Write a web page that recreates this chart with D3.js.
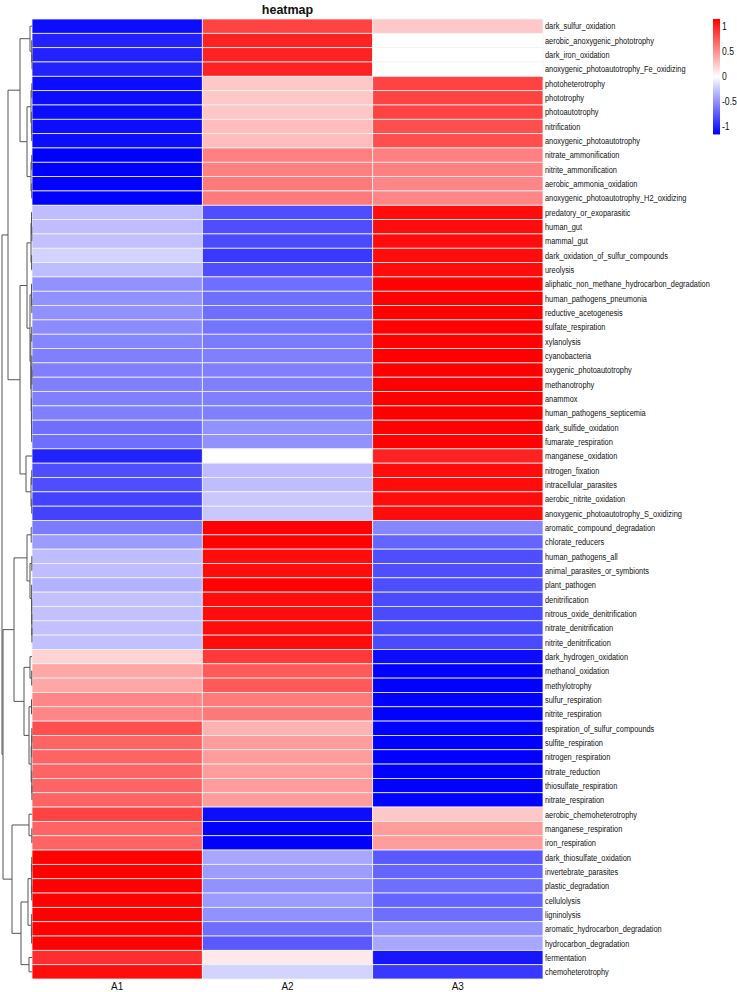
<!DOCTYPE html>
<html><head><meta charset="utf-8">
<script src="https://cdn.jsdelivr.net/npm/d3@7"></script>
<style>html,body{margin:0;padding:0;background:#fff;}svg{display:block;font-family:"Liberation Sans",Arial,sans-serif;}</style>
</head><body>
<svg id="chart" width="737" height="992"></svg>
<script>
// ---------------- data ----------------
const rowNames = [
"dark_sulfur_oxidation","aerobic_anoxygenic_phototrophy","dark_iron_oxidation","anoxygenic_photoautotrophy_Fe_oxidizing",
"photoheterotrophy","phototrophy","photoautotrophy","nitrification","anoxygenic_photoautotrophy",
"nitrate_ammonification","nitrite_ammonification","aerobic_ammonia_oxidation","anoxygenic_photoautotrophy_H2_oxidizing",
"predatory_or_exoparasitic","human_gut","mammal_gut","dark_oxidation_of_sulfur_compounds","ureolysis",
"aliphatic_non_methane_hydrocarbon_degradation","human_pathogens_pneumonia","reductive_acetogenesis","sulfate_respiration","xylanolysis",
"cyanobacteria","oxygenic_photoautotrophy","methanotrophy","anammox","human_pathogens_septicemia",
"dark_sulfide_oxidation","fumarate_respiration","manganese_oxidation","nitrogen_fixation","intracellular_parasites",
"aerobic_nitrite_oxidation","anoxygenic_photoautotrophy_S_oxidizing","aromatic_compound_degradation","chlorate_reducers",
"human_pathogens_all","animal_parasites_or_symbionts","plant_pathogen","denitrification","nitrous_oxide_denitrification",
"nitrate_denitrification","nitrite_denitrification","dark_hydrogen_oxidation","methanol_oxidation","methylotrophy",
"sulfur_respiration","nitrite_respiration","respiration_of_sulfur_compounds","sulfite_respiration","nitrogen_respiration",
"nitrate_reduction","thiosulfate_respiration","nitrate_respiration","aerobic_chemoheterotrophy","manganese_respiration",
"iron_respiration","dark_thiosulfate_oxidation","invertebrate_parasites","plastic_degradation","cellulolysis",
"ligninolysis","aromatic_hydrocarbon_degradation","hydrocarbon_degradation","fermentation","chemoheterotrophy"];
const colNames = ["A1","A2","A3"];
const valA1 = [-1.1,-1.0,-1.0,-1.0,-1.1,-1.1,-1.1,-1.1,-1.1,-1.155,-1.155,-1.15,-1.15,
 -0.3,-0.3,-0.28,-0.2,-0.3,-0.5,-0.5,-0.5,-0.52,-0.55,-0.577,-0.577,-0.577,-0.577,-0.577,
 -0.65,-0.65,-1.0,-0.8,-0.8,-0.85,-0.85,-0.6,-0.45,-0.3,-0.3,-0.35,-0.28,-0.28,-0.28,-0.28,
 0.2,0.4,0.4,0.55,0.55,0.8,0.7,0.7,0.7,0.7,0.7,0.85,0.7,0.7,
 1.15,1.15,1.15,1.15,1.15,1.15,1.15,0.95,1.1];
const valA2 = [0.85,1.0,1.0,1.0,0.25,0.25,0.25,0.3,0.3,0.577,0.577,0.6,0.6,
 -0.8,-0.8,-0.82,-0.9,-0.8,-0.65,-0.65,-0.65,-0.63,-0.6,-0.577,-0.577,-0.577,-0.577,-0.577,
 -0.5,-0.5,0.0,-0.3,-0.3,-0.25,-0.25,1.15,1.15,1.1,1.1,1.15,1.1,1.1,1.1,1.1,
 0.9,0.75,0.75,0.6,0.6,0.35,0.45,0.45,0.45,0.45,0.45,-1.1,-1.15,-1.15,
 -0.4,-0.45,-0.5,-0.45,-0.5,-0.65,-0.75,0.1,-0.2];
const valA3 = [0.25,0.0,0.0,0.0,0.85,0.85,0.85,0.8,0.8,0.577,0.577,0.55,0.55,
 1.1,1.1,1.1,1.1,1.1,1.15,1.15,1.15,1.15,1.15,1.155,1.155,1.155,1.155,1.155,
 1.15,1.15,1.0,1.1,1.1,1.1,1.1,-0.55,-0.7,-0.8,-0.8,-0.8,-0.82,-0.82,-0.82,-0.82,
 -1.1,-1.15,-1.15,-1.15,-1.15,-1.15,-1.15,-1.15,-1.15,-1.15,-1.15,0.25,0.45,0.45,
 -0.75,-0.7,-0.65,-0.7,-0.65,-0.5,-0.4,-1.05,-0.9];
const legendTicks = [1,0.5,0,-0.5,-1];
const colorStops = ["#0000FF","#FFFFFF","#FF0000"];
const titleText = "heatmap";

// row dendrogram: [height, left, right]; leaves are 1-based row numbers
const treeT   = [2, 1, [0.3, 2, [0, 3, 4]]];
const treeA   = [1.0, [0.2, 5, 6], [0.6, 7, [0.3, 8, 9]]];
const treeBb  = [1.0, [0.3, 10, 11], [0.3, 12, 13]];
const treeR   = [5, treeA, treeBb];
const treeB   = [12, treeT, treeR];
const treeC1a = [1.0, [0.5, 14, [0.2, 15, 16]], [0.4, 17, 18]];
const treeC1b = [2, [0.5, 19, [0.2, 20, 21]], [1.2, [0.3, 22, 23], [0.8, [0.2, 24, [0.1, 25, 26]], [0.6, 27, [0.5, 28, [0.4, 29, 30]]]]]];
const treeC1  = [5, treeC1a, treeC1b];
const treeC2  = [6, 31, [1.0, [0.3, 32, 33], [0.3, 34, 35]]];
const treeC   = [12, treeC1, treeC2];
const treeP1  = [24, treeB, treeC];
const treeD1  = [5, [0.8, 36, 37], [2, [0.2, 38, 39], [0.4, 40, [0.3, 41, [0.2, 42, [0.1, 43, 44]]]]]];
const treeD2  = [8, [2, 45, [0.3, 46, 47]], [3, [0.5, 48, 49], [0.8, [0.3, [0.2, 50, 51], 52], [0.2, 53, [0.1, 54, 55]]]]];
const treeD   = [18, treeD1, treeD2];
const treeE1  = [3, 56, [0.2, 57, 58]];
const treeF   = [4, [0.6, [0.3, 59, 60], [0.3, 61, 62]], [0.6, 63, [0.4, 64, 65]]];
const treeG   = [3, 66, 67];
const treeE2  = [11, treeF, treeG];
const treeE   = [20, treeE1, treeE2];
const treeS   = [29, treeD, treeE];
const treeRoot = [30, treeP1, treeS];

// ---------------- drawing ----------------
const svg = d3.select("#chart");
const mLeft = 32, mRight = 543, mTop = 19, mBottom = 979;
const x = d3.scaleBand().domain(colNames).range([mLeft, mRight]);
const y = d3.scaleBand().domain(rowNames).range([mTop, mBottom]);
const color = d3.scaleLinear().domain([-1.155, 0, 1.155]).range(colorStops).clamp(true);

const cells = [];
rowNames.forEach((r, i) => {
  [valA1, valA2, valA3].forEach((arr, j) => cells.push({r, c: colNames[j], v: arr[i]}));
});
svg.append("g").selectAll("rect").data(cells).join("rect")
  .attr("x", d => x(d.c)).attr("y", d => y(d.r))
  .attr("width", x.bandwidth()).attr("height", y.bandwidth())
  .attr("fill", d => color(d.v))
  .attr("stroke", "#f2f2f2").attr("stroke-width", 0.8);

// row labels
const lab = svg.append("g").attr("transform", `translate(${mRight + 2},0) scale(0.78,1)`);
lab.selectAll("text").data(rowNames).join("text")
  .attr("x", 0).attr("y", d => y(d) + y.bandwidth() / 2)
  .attr("dy", "0.35em").attr("font-size", 9.5).attr("fill", "#111").text(d => d);

// column labels
svg.append("g").attr("transform", "scale(1,1)").selectAll("text").data(colNames).join("text")
  .attr("x", d => x(d) + x.bandwidth() / 2).attr("y", 990)
  .attr("text-anchor", "middle").attr("font-size", 10).attr("fill", "#111").text(d => d);

// title
svg.append("text").attr("x", (mLeft + mRight) / 2).attr("y", 14)
  .attr("text-anchor", "middle").attr("font-size", 12.5).attr("font-weight", "bold")
  .attr("fill", "#111").text(titleText);

// dendrogram
const hx = d3.scaleLinear().domain([0, 30]).range([mLeft, 2]);
const dg = svg.append("g").attr("fill", "none").attr("stroke", "#555").attr("stroke-width", 1);
function drawNode(n) {
  if (typeof n === "number") return {y: y(rowNames[n - 1]) + y.bandwidth() / 2, h: 0};
  const a = drawNode(n[1]), b = drawNode(n[2]);
  const xn = hx(n[0]);
  dg.append("path").attr("d",
    `M${hx(a.h)},${a.y}H${xn}V${b.y}H${hx(b.h)}`);
  return {y: (a.y + b.y) / 2, h: n[0]};
}
drawNode(treeRoot);

// legend
const ly = d3.scaleLinear().domain([-1, 1]).range([126.7, 26.7]);
const defs = svg.append("defs");
const grad = defs.append("linearGradient").attr("id", "lg").attr("x1", 0).attr("x2", 0).attr("y1", 1).attr("y2", 0);
grad.selectAll("stop").data([-1.155, 0, 1.155]).join("stop")
  .attr("offset", (d, i) => i / 2).attr("stop-color", d => color(d));
svg.append("rect").attr("x", 713).attr("y", ly(1.155)).attr("width", 7)
  .attr("height", ly(-1.155) - ly(1.155)).attr("fill", "url(#lg)");
svg.append("g").attr("transform", "translate(722,0) scale(0.82,1)")
  .selectAll("text").data(legendTicks).join("text")
  .attr("x", 0).attr("y", d => ly(d)).attr("dy", "0.35em")
  .attr("font-size", 10.5).attr("fill", "#111").text(d => d);
</script>
</body></html>
